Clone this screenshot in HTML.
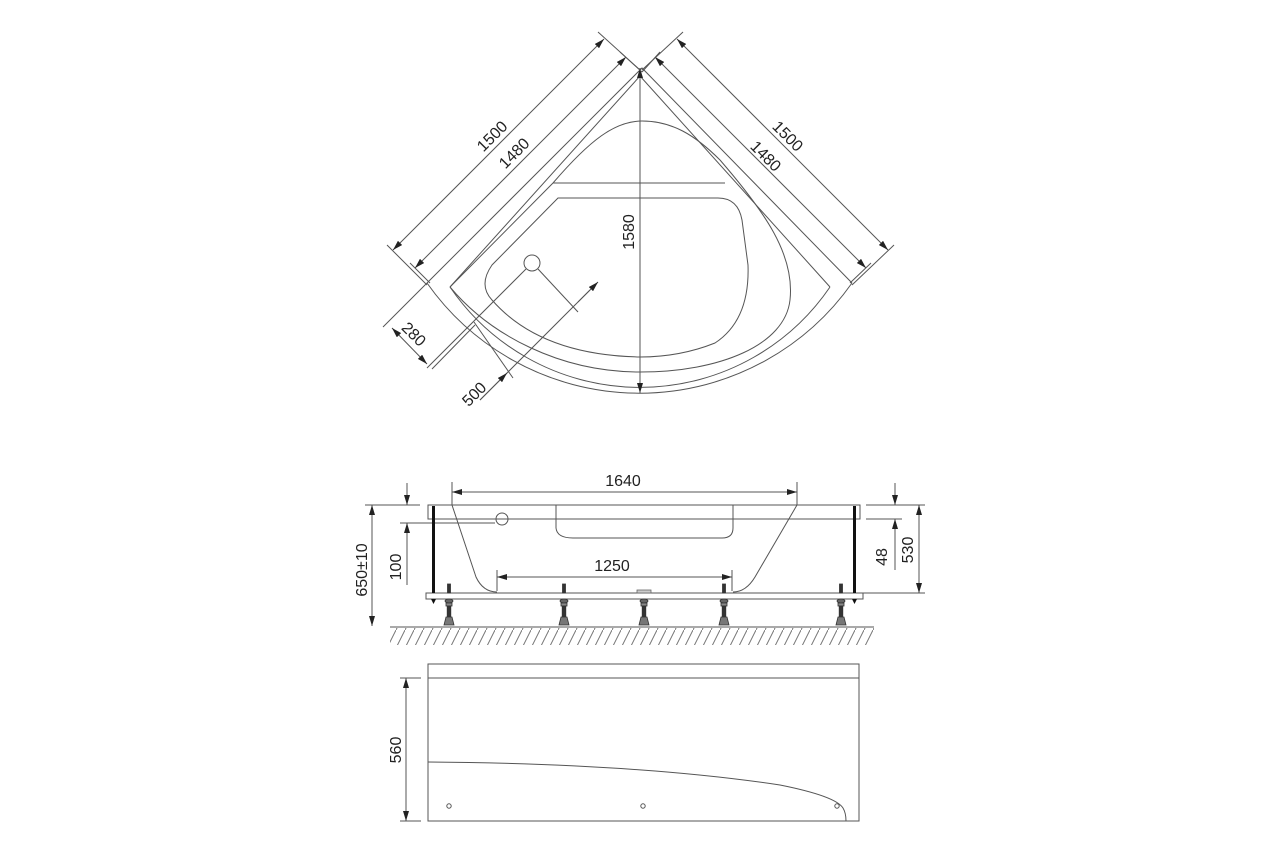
<!DOCTYPE html>
<html><head><meta charset="utf-8"><style>
html,body{margin:0;padding:0;background:#fff;}
svg{display:block;}
text{font-family:"Liberation Sans",sans-serif;font-size:16px;fill:#222;}
</style></head><body>
<svg width="1280" height="853" viewBox="0 0 1280 853" xmlns="http://www.w3.org/2000/svg">
<defs>
<marker id="a" viewBox="0 0 10 6" refX="10" refY="3" markerWidth="10" markerHeight="6" orient="auto-start-reverse" markerUnits="userSpaceOnUse">
<path d="M0,0 L10,3 L0,6 Z" fill="#222"/></marker>
<pattern id="h" width="9" height="18" patternUnits="userSpaceOnUse">
<line x1="0" y1="18" x2="9" y2="0" stroke="#777" stroke-width="1"/></pattern>
<g id="leg" fill="#333" stroke="#333" stroke-width="0.8">
<rect x="-1.5" y="584" width="3" height="9"/>
<ellipse cx="0" cy="601" rx="4" ry="2" fill="#666"/>
<rect x="-3" y="603" width="6" height="3" fill="#888"/>
<rect x="-1.8" y="606" width="3.6" height="11"/>
<path d="M-3,617 h6 l2,8 h-10 z" fill="#777"/>
</g>
</defs>
<g fill="none" stroke="#555" stroke-width="1">
<!-- TOP VIEW -->
<path d="M427,283 L642,68 L852,283"/>
<path d="M450,287 L640,76 L830,287"/>
<path d="M427,283 A260,260 0 0 0 852,283"/>
<path d="M450,287 A230,230 0 0 0 830,287" />
<path d="M450,287 L553,183 C590,140 615,121 642,121 C672,121 695,135 720,160 C765,212 795,255 790,300 C785,345 720,372 640,372 C560,372 490,335 450,287"/>
<line x1="553" y1="183" x2="725" y2="183"/>
<path d="M558,198 L718,198 Q738,198 742,220 L748,265 Q750,320 715,343 Q680,357 640,357 Q540,355 492,300 Q478,285 492,265 Z"/>
<circle cx="532" cy="263" r="8"/>
<line x1="526" y1="269" x2="427" y2="368"/>
<line x1="538" y1="269" x2="578" y2="312"/>
<line x1="640" y1="68" x2="640" y2="393" marker-start="url(#a)" marker-end="url(#a)"/>
<line x1="393" y1="250" x2="604" y2="39" marker-start="url(#a)" marker-end="url(#a)"/>
<line x1="387" y1="245" x2="427" y2="285"/>
<line x1="598" y1="32" x2="640" y2="70"/>
<line x1="415" y1="268" x2="626" y2="57" marker-start="url(#a)" marker-end="url(#a)"/>
<line x1="410" y1="263" x2="430" y2="283"/>
<line x1="620" y1="52" x2="642" y2="72"/>
<line x1="677" y1="39" x2="888" y2="250" marker-start="url(#a)" marker-end="url(#a)"/>
<line x1="683" y1="32" x2="642" y2="70"/>
<line x1="894" y1="245" x2="852" y2="285"/>
<line x1="655" y1="57" x2="866" y2="268" marker-start="url(#a)" marker-end="url(#a)"/>
<line x1="660" y1="52" x2="642" y2="72"/>
<line x1="871" y1="263" x2="850" y2="283"/>
<line x1="392" y1="328" x2="427" y2="364" marker-start="url(#a)" marker-end="url(#a)"/>
<line x1="383" y1="327" x2="427" y2="283"/>
<line x1="432" y1="369" x2="475" y2="325"/>
<line x1="480" y1="400" x2="590" y2="290"/>
<line x1="480" y1="400" x2="507" y2="373" marker-end="url(#a)"/>
<line x1="598" y1="282" x2="578" y2="302" marker-start="url(#a)"/>
<line x1="474" y1="322" x2="513" y2="378"/>

<!-- MIDDLE VIEW -->
<line x1="452" y1="492" x2="797" y2="492" marker-start="url(#a)" marker-end="url(#a)"/>
<line x1="452" y1="482" x2="452" y2="505"/>
<line x1="797" y1="482" x2="797" y2="505"/>
<rect x="428" y="505" width="432" height="14"/>
<path d="M452,505 L476,577 Q483,592 497,592"/>
<path d="M797,505 L755,577 Q746,592 733,592"/>
<path d="M556,505 L556,528 Q557,538 573,538 L722,538 Q733,538 733,528 L733,505"/>
<circle cx="502" cy="519" r="6"/>
<line x1="400" y1="523" x2="495" y2="523"/>
<rect x="426" y="593" width="437" height="6"/>
<line x1="497" y1="577" x2="732" y2="577" marker-start="url(#a)" marker-end="url(#a)"/>
<line x1="497" y1="570" x2="497" y2="591"/>
<line x1="732" y1="570" x2="732" y2="591"/>
<line x1="372" y1="505" x2="372" y2="626" marker-start="url(#a)" marker-end="url(#a)"/>
<line x1="365" y1="505" x2="420" y2="505"/>
<line x1="407" y1="483" x2="407" y2="505" marker-end="url(#a)"/>
<line x1="407" y1="585" x2="407" y2="523" marker-end="url(#a)"/>
<line x1="895" y1="483" x2="895" y2="505" marker-end="url(#a)"/>
<line x1="895" y1="570" x2="895" y2="519" marker-end="url(#a)"/>
<line x1="866" y1="505" x2="925" y2="505"/>
<line x1="866" y1="519" x2="902" y2="519"/>
<line x1="919" y1="505" x2="919" y2="593" marker-start="url(#a)" marker-end="url(#a)"/>
<line x1="863" y1="593" x2="925" y2="593"/>
<line x1="390" y1="627" x2="874" y2="627"/>
<rect x="390" y="628" width="484" height="17" fill="url(#h)" stroke="none"/>

<!-- BOTTOM VIEW -->
<rect x="428" y="664" width="431" height="157"/>
<line x1="428" y1="678" x2="859" y2="678"/>
<path d="M428,762 C560,763 680,770 780,785 C815,792 838,800 843,808 Q846,813 846,821"/>
<circle cx="449" cy="806" r="2.2"/>
<circle cx="643" cy="806" r="2.2"/>
<circle cx="837" cy="806" r="2.2"/>
<line x1="406" y1="678" x2="406" y2="821" marker-start="url(#a)" marker-end="url(#a)"/>
<line x1="400" y1="678" x2="421" y2="678"/>
<line x1="400" y1="821" x2="421" y2="821"/>
</g>
<rect x="432" y="506" width="3" height="87" fill="#111"/>
<rect x="853" y="506" width="3" height="87" fill="#111"/>
<path d="M431,599 h5 l-2.5,5 z M852,599 h5 l-2.5,5 z" fill="#111"/>
<use href="#leg" x="449"/>
<use href="#leg" x="564"/>
<use href="#leg" x="724"/>
<use href="#leg" x="841"/>
<g fill="#333" stroke="#333" stroke-width="0.8">
<rect x="637" y="590" width="14" height="3" fill="#ccc" stroke="#666"/>
<ellipse cx="644" cy="601" rx="4" ry="2" fill="#666"/>
<rect x="641" y="603" width="6" height="3" fill="#888"/>
<rect x="642.2" y="606" width="3.6" height="11"/>
<path d="M641,617 h6 l2,8 h-10 z" fill="#777"/>
</g>
<text transform="translate(496,140) rotate(-45)" text-anchor="middle">1500</text>
<text transform="translate(518,157) rotate(-45)" text-anchor="middle">1480</text>
<text transform="translate(784,140) rotate(45)" text-anchor="middle">1500</text>
<text transform="translate(762,160) rotate(45)" text-anchor="middle">1480</text>
<text transform="translate(634,232) rotate(-90)" text-anchor="middle">1580</text>
<text transform="translate(410,338) rotate(45)" text-anchor="middle">280</text>
<text transform="translate(478,398) rotate(-45)" text-anchor="middle">500</text>
<text x="623" y="486" text-anchor="middle">1640</text>
<text x="612" y="571" text-anchor="middle">1250</text>
<text transform="translate(367,570) rotate(-90)" text-anchor="middle">650±10</text>
<text transform="translate(401,567) rotate(-90)" text-anchor="middle">100</text>
<text transform="translate(887,557) rotate(-90)" text-anchor="middle">48</text>
<text transform="translate(913,550) rotate(-90)" text-anchor="middle">530</text>
<text transform="translate(401,750) rotate(-90)" text-anchor="middle">560</text>
</svg>
</body></html>
